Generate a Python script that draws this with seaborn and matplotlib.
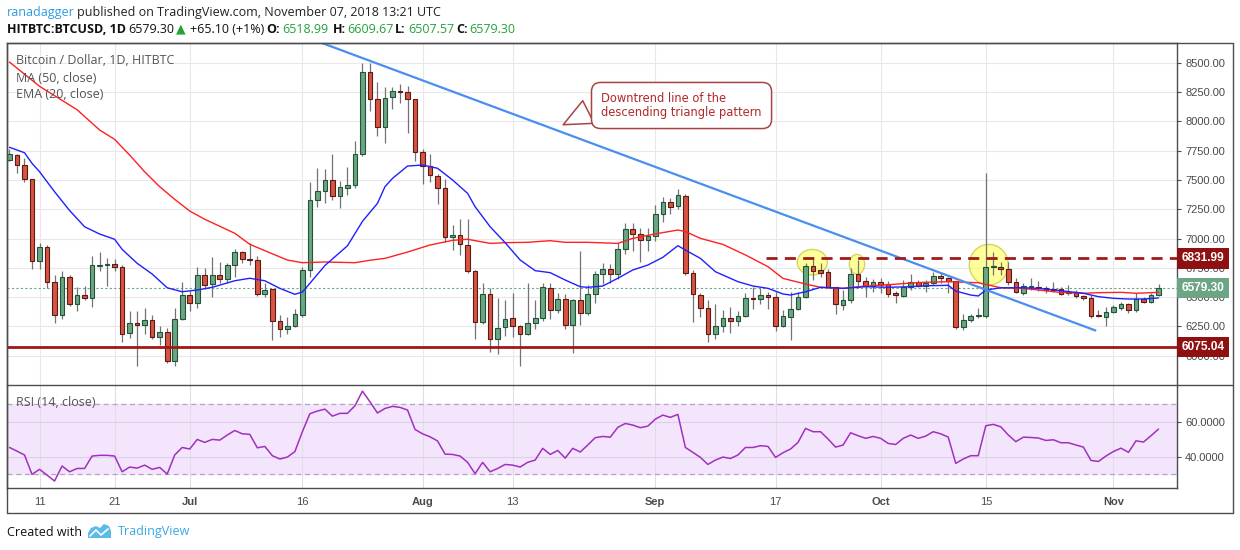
import matplotlib
matplotlib.use("Agg")
import matplotlib.pyplot as plt
import matplotlib.dates as mdates
import matplotlib.transforms as mtrans
from matplotlib.patches import Ellipse, Polygon
from matplotlib.lines import Line2D
import pandas as pd
import seaborn as sns

# ---- values (daily candles, 2018-06-07 .. 2018-11-07) ----
start, end = "2018-06-07", "2018-11-07"

opens = [7670, 7710, 7625, 7505, 6805, 6925, 6626, 6345, 6669, 6438, 6515, 6495, 6765, 6775, 6785, 6760,
         6190, 6276, 6265, 6307, 6157, 6199, 5952, 6316,
         6515, 6453, 6686, 6609, 6686, 6652, 6771, 6882, 6823, 6820, 6524, 6566, 6299, 6225, 6251, 6347,
         6732, 7326, 7409, 7497, 7360, 7434, 7454, 7725, 8419, 8189, 7950, 8206, 8257, 8248, 8189,
         7736, 7617, 7534, 7429, 7016, 7027, 6942, 6720, 6285, 6524, 6142, 6242, 6319, 6250, 6188, 6276,
         6319, 6581, 6387, 6481, 6259, 6475, 6362, 6524, 6695, 6737, 6700, 6908, 7079, 7036, 6985,
         7019, 7207, 7309, 7275, 7363, 6703, 6515, 6404, 6182, 6253, 6319, 6293, 6339, 6492, 6484,
         6515, 6498, 6256, 6333, 6396, 6501, 6766, 6728, 6712, 6586, 6436, 6473, 6695, 6641, 6598,
         6626, 6609, 6535, 6509, 6589, 6632, 6598, 6618, 6678, 6660, 6638, 6248, 6302, 6336, 6342,
         6754, 6760, 6737, 6626, 6532, 6586, 6589, 6581, 6569, 6566, 6532, 6541, 6512, 6490, 6345, 6333,
         6370, 6404, 6438, 6390, 6481, 6461, 6518.99]
highs = [7764, 7722, 7685, 7510, 6959, 6945, 6689, 6723, 6689, 6584, 6598, 6851, 6885, 6830, 6822, 6777,
         6381, 6381, 6404, 6350, 6254, 6236, 6404, 6629,
         6555, 6760, 6746, 6840, 6800, 6788, 6911, 6894, 6965, 6854, 6618, 6572, 6347, 6330, 6396, 6760,
         7483, 7599, 7593, 7719, 7491, 7608, 7833, 8496, 8496, 8334, 8291, 8291, 8319, 8302, 8195,
         7765, 7719, 7551, 7506, 7116, 7164, 7164, 6731, 6623, 6575, 6490, 6475, 6532, 6262, 6618, 6475,
         6618, 6623, 6538, 6524, 6480, 6894, 6604, 6726, 6794, 6783, 6959, 7136, 7136, 7093, 7087,
         7284, 7358, 7343, 7420, 7378, 6732, 6538, 6475, 6441, 6390, 6419, 6382, 6532, 6584, 6575,
         6547, 6547, 6390, 6547, 6547, 6788, 6840, 6788, 6740, 6590, 6561, 6746, 6817, 6669, 6655,
         6660, 6638, 6552, 6646, 6695, 6646, 6646, 6717, 6703, 6669, 6640, 6356, 6356, 6404, 7562,
         6888, 6803, 6803, 6660, 6623, 6666, 6638, 6595, 6626, 6589, 6603, 6561, 6518, 6518, 6390, 6418,
         6433, 6461, 6447, 6532, 6504, 6532, 6609.67]
lows = [7660, 7557, 7485, 6743, 6737, 6575, 6282, 6313, 6427, 6382, 6478, 6415, 6726, 6598, 6726, 6114,
        6154, 5915, 6182, 6140, 6091, 5940, 5915, 6307,
        6384, 6404, 6572, 6498, 6618, 6618, 6675, 6788, 6774, 6510, 6498, 6134, 6157, 6185, 6242, 6333,
        6675, 7272, 7306, 7332, 7264, 7375, 7434, 7708, 8092, 7878, 7813, 8103, 8160, 7904, 7665,
        7469, 7486, 7298, 6973, 6902, 6857, 6703, 6140, 6271, 6034, 6012, 6171, 6162, 5912, 6180, 6225,
        6296, 6310, 6362, 6231, 6026, 6259, 6347, 6453, 6612, 6621, 6655, 6868, 6897, 6803, 6897,
        6982, 7144, 7207, 7249, 6690, 6290, 6333, 6120, 6140, 6205, 6191, 6256, 6333, 6396, 6441,
        6396, 6214, 6248, 6134, 6390, 6495, 6646, 6675, 6575, 6353, 6390, 6453, 6575, 6498, 6547,
        6532, 6498, 6447, 6504, 6561, 6589, 6547, 6604, 6618, 6538, 6225, 6219, 6290, 6319, 6319,
        6689, 6689, 6603, 6538, 6518, 6561, 6552, 6538, 6547, 6518, 6518, 6490, 6475, 6325, 6328, 6256,
        6362, 6390, 6362, 6370, 6447, 6447, 6507.57]
closes = [7719, 7625, 7505, 6805, 6925, 6626, 6347, 6669, 6438, 6515, 6495, 6771, 6775, 6785, 6760, 6182,
          6276, 6265, 6307, 6157, 6199, 5952, 6316, 6515,
          6453, 6686, 6601, 6686, 6652, 6771, 6882, 6823, 6820, 6524, 6561, 6299, 6225, 6251, 6353, 6732,
          7326, 7403, 7497, 7360, 7437, 7454, 7725, 8419, 8189, 7950, 8197, 8257, 8250, 8189, 7736,
          7617, 7540, 7429, 7016, 7027, 6951, 6720, 6285, 6524, 6142, 6233, 6310, 6250, 6188, 6276, 6319,
          6589, 6387, 6481, 6259, 6475, 6362, 6524, 6695, 6737, 6700, 6908, 7079, 7036, 6985, 7019,
          7207, 7309, 7267, 7369, 6703, 6524, 6404, 6182, 6253, 6319, 6293, 6339, 6490, 6484, 6515,
          6498, 6256, 6339, 6396, 6501, 6766, 6726, 6709, 6586, 6444, 6473, 6695, 6641, 6598, 6626,
          6606, 6524, 6515, 6589, 6626, 6598, 6618, 6678, 6660, 6638, 6248, 6302, 6339, 6344, 6754,
          6766, 6737, 6626, 6544, 6595, 6595, 6575, 6561, 6561, 6527, 6541, 6510, 6490, 6342, 6336, 6370,
          6416, 6438, 6390, 6481, 6461, 6518, 6579.30]

rsi = [45.3, 43.2, 41.0, 29.9, 32.8, 29.5, 26.1, 34.7, 31.4, 33.3, 33.3, 40.4, 40.8, 40.8, 40.4, 31.4,
       34.1, 33.5, 35.2, 32.8, 33.9, 30.1, 41.0, 45.3,
       44.4, 49.9, 48.2, 49.9, 49.5, 52.4, 55.0, 53.1, 52.8, 45.1, 45.9, 40.6, 38.7, 39.8, 42.9, 54.3,
       64.6, 66.1, 67.2, 63.2, 64.8, 64.8, 69.1, 77.5, 71.4, 65.0, 67.6, 68.8, 68.2, 66.7, 55.6,
       53.1, 51.4, 49.0, 41.5, 41.3, 40.4, 36.8, 30.3, 36.8, 31.4, 33.3, 35.6, 35.2, 34.1, 36.8, 38.1,
       44.8, 41.3, 43.6, 39.2, 44.8, 42.7, 46.7, 50.9, 51.6, 51.2, 56.8, 59.0, 58.1, 56.6, 57.5,
       61.5, 63.8, 62.5, 64.2, 45.3, 42.5, 39.6, 35.6, 38.1, 39.8, 39.0, 41.0, 45.3, 45.3, 46.3,
       45.9, 39.6, 42.3, 44.4, 48.2, 56.2, 54.3, 54.3, 50.1, 45.5, 46.7, 53.7, 52.0, 50.5, 51.6,
       50.5, 47.6, 47.0, 50.5, 52.4, 50.5, 51.8, 54.3, 53.1, 51.2, 36.2, 38.7, 40.6, 40.6, 57.7,
       58.5, 57.1, 52.4, 48.6, 51.2, 51.0, 50.7, 49.3, 49.7, 48.0, 48.0, 46.7, 45.5, 37.9, 37.3, 40.4,
       43.0, 44.9, 42.5, 49.1, 48.4, 52.0, 55.8]

ma_days = ["06-07", "06-11", "06-16", "06-19", "06-21", "06-23", "06-25", "06-27", "06-29", "07-01",
           "07-03", "07-07", "07-09", "07-12", "07-14", "07-16", "07-19", "07-23", "07-25", "07-27",
           "07-30", "08-02", "08-05", "08-07", "08-10", "08-12", "08-15", "08-18", "08-20", "08-23",
           "08-27", "08-29", "09-01", "09-04", "09-05", "09-07", "09-10", "09-13", "09-16", "09-18",
           "09-21", "09-23", "09-26", "09-29", "10-02", "10-05", "10-07", "10-10", "10-14", "10-17",
           "10-20", "10-22", "10-25", "10-28", "10-30", "11-02", "11-04", "11-07"]
ma50 = [8507, 8300, 8100, 7927, 7847, 7713, 7570, 7443, 7335, 7235,
        7165, 7045, 6951, 6870, 6817, 6794, 6800, 6794, 6815, 6831,
        6885, 6945, 6985, 6994, 6959, 6965, 6968, 6982, 6968, 6968,
        6959, 7002, 7040, 7073, 7060, 7002, 6950, 6860, 6760, 6660,
        6612, 6584, 6575, 6595, 6606, 6620, 6627, 6632, 6623, 6580,
        6575, 6561, 6540, 6533, 6538, 6541, 6533, 6541]

ema_days = ["06-07", "06-09", "06-10", "06-11", "06-13", "06-15", "06-17", "06-19", "06-21", "06-22",
            "06-24", "06-26", "06-28", "06-30", "07-02", "07-04", "07-07", "07-09", "07-11", "07-13",
            "07-15", "07-16", "07-17", "07-19", "07-22", "07-24", "07-26", "07-27", "07-28", "07-30",
            "08-01", "08-03", "08-05", "08-07", "08-08", "08-10", "08-12", "08-14", "08-16", "08-18",
            "08-20", "08-22", "08-23", "08-25", "08-27", "08-29", "08-31", "09-02", "09-04", "09-05",
            "09-07", "09-09", "09-12", "09-14", "09-16", "09-18", "09-19", "09-21", "09-23", "09-26",
            "09-29", "10-02", "10-05", "10-07", "10-10", "10-11", "10-13", "10-14", "10-15", "10-17",
            "10-20", "10-22", "10-25", "10-28", "10-30", "11-01", "11-03", "11-05", "11-07"]
ema20 = [7779, 7733, 7642, 7571, 7400, 7240, 7101, 7039, 6994, 6908,
         6789, 6697, 6580, 6546, 6561, 6584, 6640, 6661, 6640, 6575,
         6524, 6544, 6618, 6770, 6938, 7147, 7301, 7443, 7514, 7619,
         7628, 7600, 7500, 7386, 7272, 7101, 6965, 6817, 6726, 6709,
         6646, 6589, 6584, 6595, 6661, 6732, 6774, 6840, 6939, 6902,
         6831, 6717, 6632, 6595, 6575, 6527, 6518, 6546, 6584, 6575,
         6589, 6584, 6589, 6597, 6601, 6552, 6518, 6510, 6561, 6580,
         6580, 6575, 6555, 6533, 6504, 6490, 6484, 6484, 6493]

tick_dates = ["2018-06-11", "2018-06-21", "2018-07-01", "2018-07-16", "2018-08-01", "2018-08-13",
              "2018-09-01", "2018-09-17", "2018-10-01", "2018-10-15", "2018-11-01"]
tick_labels = ["11", "21", "Jul", "16", "Aug", "13", "Sep", "17", "Oct", "15", "Nov"]
price_ticks = [6000, 6250, 6500, 6750, 7000, 7250, 7500, 7750, 8000, 8250, 8500]
rsi_ticks = [40, 60]
resistance = 6831.99
support = 6075.04
last_close = 6579.30

# ---- style ----
sns.set_style("white")
plt.rcParams["font.family"] = ["Open Sans", "DejaVu Sans"]

W, H = 1240, 550
fig = plt.figure(figsize=(W / 100, H / 100), dpi=100)
fig.patch.set_facecolor("white")


def fx(x):
    return x / W


def fy(y):
    return 1 - y / H


L, R, RR = 7, 1176.7, 1233
T, MID, BOT, FB = 43.3, 385, 487.7, 513.3
frame = "#4d4d4d"
ax = fig.add_axes([fx(L), fy(MID), fx(R) - fx(L), fy(T) - fy(MID)])
ax2 = fig.add_axes([fx(L), fy(BOT), fx(R) - fx(L), fy(MID) - fy(BOT)], sharex=ax)

dates = pd.date_range(start, end, freq="D")
xd = mdates.date2num(dates)
day0 = mdates.date2num(pd.Timestamp("2018-06-11"))
xlim = (day0 - 4.33, day0 + 151.42)
tick_x = mdates.date2num(pd.to_datetime(tick_dates))

# grid
for p in price_ticks:
    ax.axhline(p, color="#e8e8e8", lw=0.8, zorder=0)
for t in tick_x:
    ax.axvline(t, color="#e8e8e8", lw=0.8, zorder=0)
    ax2.axvline(t, color="#e2dbe8", lw=0.8, zorder=0.5)

# candles
df = pd.DataFrame({"x": xd, "o": opens, "h": highs, "l": lows, "c": closes})
up = df["c"] >= df["o"]
ax.vlines(df["x"], df["l"], df["h"], color="#737375", lw=0.9, zorder=3)
for mask, fc, ec in [(up, "#6ba583", "#225437"), (~up, "#d75442", "#5b1a13")]:
    d = df[mask]
    ax.bar(d["x"], (d["c"] - d["o"]).abs().clip(lower=6), bottom=d[["o", "c"]].min(axis=1),
           width=0.62, color=fc, edgecolor=ec, lw=0.8, zorder=4)

# moving averages
ma_x = mdates.date2num(pd.to_datetime(["2018-" + d for d in ma_days]))
ema_x = mdates.date2num(pd.to_datetime(["2018-" + d for d in ema_days]))
sns.lineplot(x=ma_x, y=ma50, ax=ax, color="#ff2020", lw=1.0, zorder=5)
sns.lineplot(x=ema_x, y=ema20, ax=ax, color="#2020ff", lw=1.0, zorder=5)

# highlight circles
for cx, cy, w, h in [(102.9, 6798, 4.0, 219), (108.85, 6781, 2.05, 168), (126.4, 6777, 5.2, 347)]:
    ax.add_patch(Ellipse((day0 + cx, cy), w, h, fc="#ffff55", alpha=0.6, ec="#b8b820", lw=1, zorder=2.5))

# lines
ax.plot([day0 + 37.0, day0 + 140.7], [8684, 6213], color="#4a8ef0", lw=1.6, zorder=6,
        solid_capstyle="butt")
ax.hlines(resistance, day0 + 96.8, xlim[1], colors="#a01c1c", lw=2, linestyles=(0, (4, 2.6)), zorder=6)
ax.axhline(support, color="#a31616", lw=2, zorder=6)
ax.axhline(last_close, color="#6ba583", lw=0.8, ls=(0, (2, 2)), zorder=2)

# callout
ax.annotate("Downtrend line of the\ndescending triangle pattern",
            xy=(day0 + 69.4, 7961), xytext=(day0 + 74.8, 8136), textcoords="data",
            ha="left", va="center", fontsize=8.3, color="#b02a2a", linespacing=1.05,
            family=["DejaVu Sans"], zorder=8,
            bbox=dict(boxstyle="round,pad=0.85,rounding_size=0.8", fc="white", ec="#a84444", lw=1.1),
            arrowprops=dict(arrowstyle="wedge,tail_width=2.2,shrink_factor=0.5", fc="white",
                            ec="#a84444", lw=1.1, relpos=(0, 0.5)))

ax.set_xlim(*xlim)
ax.set_ylim(5750, 8667)

# right price axis
ax.yaxis.tick_right()
ax.set_yticks(price_ticks)
ax.set_yticklabels([f"{p:.2f}" for p in price_ticks])
ax.tick_params(axis="y", length=3, width=0.8, color=frame, labelsize=8, labelcolor="#4a4a4a", pad=3)
ax.tick_params(axis="x", length=0, labelbottom=False)
for lbl in ax.get_yticklabels():
    lbl.set_fontfamily("Liberation Sans")
ax.set_xlabel("")
ax.set_ylabel("")

# price tags on the right axis
tag_tr = mtrans.offset_copy(mtrans.blended_transform_factory(ax.transAxes, ax.transData),
                            fig=fig, x=5, y=0, units="dots")
for val, col in [(resistance, "#8f1010"), (last_close, "#6ba583"), (support, "#8f1010")]:
    ax.text(1, val, f"{val:.2f}", transform=tag_tr, ha="left", va="center", color="white",
            fontsize=8.6, fontweight="bold", family="Liberation Sans", clip_on=False, zorder=10,
            bbox=dict(boxstyle="square,pad=0.36", fc=col, ec="none"))

# RSI pane
ax2.axhspan(30, 70, color="#f3e6fc", zorder=0)
for v in rsi_ticks:
    ax2.axhline(v, color="#ddd0e8", lw=0.8, zorder=0.6)
for v in [30, 70]:
    ax2.axhline(v, color="#b3a5bf", lw=0.9, ls=(0, (4, 3)), zorder=1)
sns.lineplot(x=xd, y=rsi, ax=ax2, color="#a22fc0", lw=1.1, zorder=3)
ax2.set_ylim(22.3, 81)
ax2.yaxis.tick_right()
ax2.set_yticks(rsi_ticks)
ax2.set_yticklabels([f"{v:.4f}" for v in rsi_ticks])
ax2.tick_params(axis="y", length=3, width=0.8, color=frame, labelsize=8, labelcolor="#4a4a4a", pad=3)
ax2.set_xticks(tick_x)
ax2.set_xticklabels(tick_labels)
ax2.tick_params(axis="x", length=3, width=0.8, color=frame, labelsize=8, labelcolor="#4a4a4a", pad=3.5)
for lbl in ax2.get_yticklabels() + ax2.get_xticklabels():
    lbl.set_fontfamily("Liberation Sans")
for lbl in ax2.get_xticklabels():
    if lbl.get_text().isalpha():
        lbl.set_fontweight("bold")
ax2.set_xlabel("")
ax2.set_ylabel("")

# spines / frame
for a in (ax, ax2):
    for s in a.spines.values():
        s.set_color(frame)
        s.set_linewidth(1)
ax.spines["bottom"].set_visible(False)
ax2.spines["top"].set_visible(False)
for xs, ys in [([L, RR], [T, T]), ([L, RR], [MID, MID]), ([L, RR], [FB, FB]),
               ([RR, RR], [T, FB]), ([L, L], [T, FB])]:
    fig.add_artist(Line2D([fx(v) for v in xs], [fy(v) for v in ys], color=frame, lw=1))

# pane legends
for txt, y in [("Bitcoin / Dollar, 1D, HITBTC", 61), ("MA (50, close)", 78), ("EMA (20, close)", 95),
               ("RSI (14, close)", 402.7)]:
    fig.text(fx(15.7), fy(y), txt, fontsize=9, color="#555555", va="center", ha="left")

# header
fig.text(fx(7), fy(12.3), "ranadagger", fontsize=9, color="#2d9ddf", va="center")
fig.text(fx(77), fy(12.3), "published on TradingView.com, November 07, 2018 13:21 UTC",
         fontsize=9, color="#222222", va="center")
green = "#22a33a"
pieces = [("HITBTC:BTCUSD, 1D", 7, "bold", "#111111"), ("6579.30", 128, "normal", "#111111"),
          ("\u25B2", 176, "normal", green), ("+65.10 (+1%)", 190, "normal", "#111111"),
          ("O:", 266, "bold", "#111111"), ("6518.99", 282, "normal", green),
          ("H:", 333, "bold", "#111111"), ("6609.67", 347, "normal", green),
          ("L:", 395, "bold", "#111111"), ("6507.57", 408, "normal", green),
          ("C:", 456, "bold", "#111111"), ("6579.30", 469, "normal", green)]
for txt, x, wt, col in pieces:
    fam = ["DejaVu Sans"] if txt == "\u25B2" else ["Open Sans", "DejaVu Sans"]
    fig.text(fx(x), fy(29.3), txt, fontsize=9, fontweight=wt, color=col, va="center", family=fam)

# footer
fig.text(fx(7), fy(532), "Created with", fontsize=9, color="#111111", va="center")
fig.text(fx(118), fy(532), "TradingView", fontsize=9, color="#3aa8e0", va="center")
logo = [(88, 538), (88, 533), (91, 528), (96, 526), (100, 528), (104, 524), (109, 526), (111, 531), (111, 538)]
fig.add_artist(Polygon([(fx(a), fy(b)) for a, b in logo], closed=True, fc="#5bbbe8", ec="none"))
fig.add_artist(Line2D([fx(v) for v in (90, 96, 101, 108)], [fy(v) for v in (536, 530, 535, 529)],
                      color="white", lw=1.2))

fig.savefig("out.png", dpi=100, facecolor="white")
